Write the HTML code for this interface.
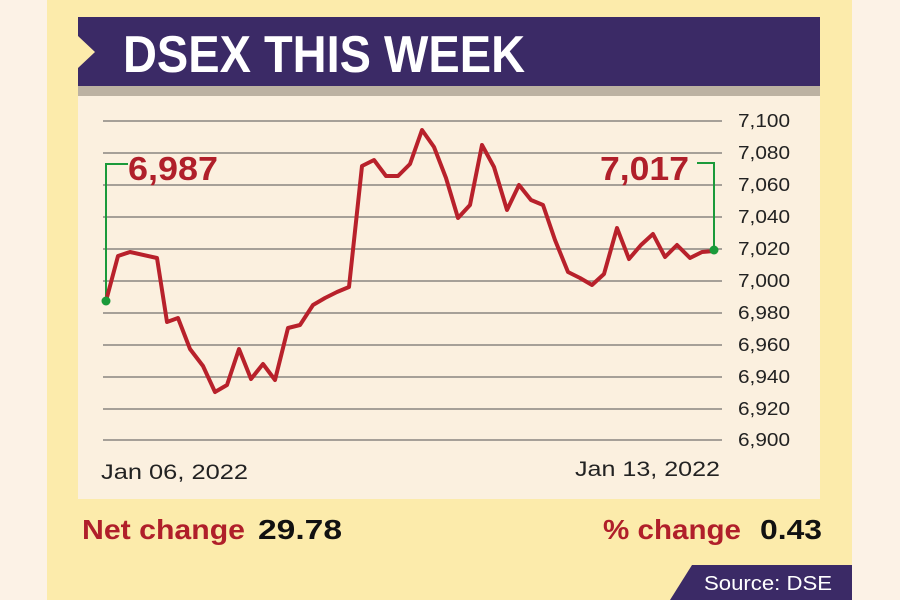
<!DOCTYPE html>
<html><head><style>
html,body{margin:0;padding:0;width:900px;height:600px;overflow:hidden;background:#fdf3e6;}
</style></head><body>
<svg width="900" height="600" xmlns="http://www.w3.org/2000/svg" font-family="'Liberation Sans', sans-serif">
<rect x="0" y="0" width="900" height="600" fill="#fcf2e6"/>
<rect x="47" y="0" width="805" height="600" fill="#fcebab"/>
<rect x="78" y="86" width="742" height="13" fill="#bcb2a2"/>
<rect x="78" y="96" width="742" height="403" fill="#fbf0df"/>
<polygon points="78,17 820,17 820,86 78,86 78,68 95,52 78,36" fill="#3b2a66"/>
<text x="123" y="72" font-size="52" font-weight="bold" fill="#fff" textLength="402" lengthAdjust="spacingAndGlyphs">DSEX THIS WEEK</text>
<g stroke="#8a8580" stroke-width="1.5">
<line x1="103" y1="121" x2="722" y2="121"/><line x1="103" y1="153" x2="722" y2="153"/>
<line x1="103" y1="185" x2="722" y2="185"/><line x1="103" y1="217" x2="722" y2="217"/>
<line x1="103" y1="249" x2="722" y2="249"/><line x1="103" y1="281" x2="722" y2="281"/>
<line x1="103" y1="313" x2="722" y2="313"/><line x1="103" y1="345" x2="722" y2="345"/>
<line x1="103" y1="377" x2="722" y2="377"/><line x1="103" y1="409" x2="722" y2="409"/>
<line x1="103" y1="440" x2="722" y2="440"/>
</g>
<g font-size="18" fill="#222">
<text x="738" y="127" textLength="52" lengthAdjust="spacingAndGlyphs">7,100</text>
<text x="738" y="159" textLength="52" lengthAdjust="spacingAndGlyphs">7,080</text>
<text x="738" y="191" textLength="52" lengthAdjust="spacingAndGlyphs">7,060</text>
<text x="738" y="223" textLength="52" lengthAdjust="spacingAndGlyphs">7,040</text>
<text x="738" y="255" textLength="52" lengthAdjust="spacingAndGlyphs">7,020</text>
<text x="738" y="287" textLength="52" lengthAdjust="spacingAndGlyphs">7,000</text>
<text x="738" y="319" textLength="52" lengthAdjust="spacingAndGlyphs">6,980</text>
<text x="738" y="351" textLength="52" lengthAdjust="spacingAndGlyphs">6,960</text>
<text x="738" y="383" textLength="52" lengthAdjust="spacingAndGlyphs">6,940</text>
<text x="738" y="415" textLength="52" lengthAdjust="spacingAndGlyphs">6,920</text>
<text x="738" y="446" textLength="52" lengthAdjust="spacingAndGlyphs">6,900</text>
</g>
<polyline fill="none" stroke="#1a9a3a" stroke-width="2" points="106,301 106,164 128,164"/>
<polyline fill="none" stroke="#1a9a3a" stroke-width="2" points="714,250 714,163 697,163"/>
<text x="128" y="180" font-size="33" font-weight="bold" fill="#b01f2a" textLength="90" lengthAdjust="spacingAndGlyphs">6,987</text>
<text x="600" y="180" font-size="33" font-weight="bold" fill="#b01f2a" textLength="89" lengthAdjust="spacingAndGlyphs">7,017</text>
<polyline fill="none" stroke="#b8212b" stroke-width="4" stroke-linejoin="round" points="106,301 118,256 130,252 157,258 167,322 178,318 190,349 203,366 215,392 227,385 239,349 251,379 263,364 275,380 288,328 300,325 313,305 325,298 337,292 349,287 362,166 374,160 386,176 398,176 410,164 422,130 434,147 446,178 458,218 470,205 482,145 494,167 507,210 519,185 531,200 543,205 555,240 568,272 580,278 592,285 604,274 617,228 629,259 641,245 653,234 665,257 677,245 690,258 702,252 714,251"/>
<circle cx="106" cy="301" r="4.5" fill="#1a9a3a"/>
<circle cx="714" cy="250" r="4.5" fill="#1a9a3a"/>
<text x="101" y="479" font-size="21" fill="#222" textLength="147" lengthAdjust="spacingAndGlyphs">Jan 06, 2022</text>
<text x="575" y="476" font-size="21" fill="#222" textLength="145" lengthAdjust="spacingAndGlyphs">Jan 13, 2022</text>
<text x="82" y="539" font-size="28" font-weight="bold" fill="#b01f2a" textLength="163" lengthAdjust="spacingAndGlyphs">Net change</text>
<text x="258" y="539" font-size="28" font-weight="bold" fill="#111" textLength="84" lengthAdjust="spacingAndGlyphs">29.78</text>
<text x="603" y="539" font-size="28" font-weight="bold" fill="#b01f2a" textLength="138" lengthAdjust="spacingAndGlyphs">% change</text>
<text x="760" y="539" font-size="28" font-weight="bold" fill="#111" textLength="62" lengthAdjust="spacingAndGlyphs">0.43</text>
<polygon points="692,565 852,565 852,600 670,600" fill="#3b2a66"/>
<text x="704" y="590" font-size="20" fill="#fff" textLength="128" lengthAdjust="spacingAndGlyphs">Source: DSE</text>
</svg>
</body></html>
